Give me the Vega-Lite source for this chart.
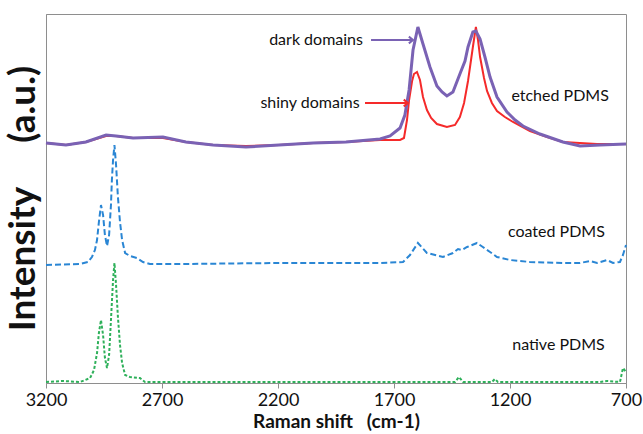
{
  "$schema": "https://vega.github.io/schema/vega-lite/v6.json",
  "width": 580,
  "height": 369,
  "autosize": {"type": "none"},
  "padding": {"left": 46, "top": 14, "right": 17, "bottom": 51},
  "background": "white",
  "config": {
    "view": {"stroke": "#8e8e8e", "strokeWidth": 1},
    "font": "Lato"
  },
  "datasets": {
    "dark": [
      {"shift": 3200, "value": 240}, {"shift": 3114, "value": 238}, {"shift": 3028, "value": 241},
      {"shift": 2941, "value": 248}, {"shift": 2898, "value": 247}, {"shift": 2825, "value": 245},
      {"shift": 2696, "value": 246}, {"shift": 2597, "value": 241}, {"shift": 2480, "value": 238},
      {"shift": 2338, "value": 236}, {"shift": 2196, "value": 238}, {"shift": 2049, "value": 240},
      {"shift": 1907, "value": 241}, {"shift": 1760, "value": 244}, {"shift": 1717, "value": 247},
      {"shift": 1674, "value": 255}, {"shift": 1653, "value": 268}, {"shift": 1635, "value": 293},
      {"shift": 1618, "value": 333}, {"shift": 1597, "value": 356}, {"shift": 1575, "value": 339},
      {"shift": 1545, "value": 316}, {"shift": 1515, "value": 297}, {"shift": 1493, "value": 291},
      {"shift": 1472, "value": 287}, {"shift": 1446, "value": 291}, {"shift": 1416, "value": 309},
      {"shift": 1394, "value": 322}, {"shift": 1381, "value": 336}, {"shift": 1360, "value": 351},
      {"shift": 1347, "value": 352}, {"shift": 1329, "value": 344}, {"shift": 1308, "value": 326},
      {"shift": 1286, "value": 306}, {"shift": 1256, "value": 286}, {"shift": 1213, "value": 271},
      {"shift": 1178, "value": 263}, {"shift": 1144, "value": 257}, {"shift": 1071, "value": 249},
      {"shift": 972, "value": 241}, {"shift": 898, "value": 237}, {"shift": 812, "value": 238},
      {"shift": 700, "value": 239}
    ],
    "shiny": [
      {"shift": 3200, "value": 240}, {"shift": 3114, "value": 238}, {"shift": 3028, "value": 241},
      {"shift": 2941, "value": 247}, {"shift": 2898, "value": 247}, {"shift": 2825, "value": 245},
      {"shift": 2696, "value": 245}, {"shift": 2597, "value": 241}, {"shift": 2480, "value": 238},
      {"shift": 2338, "value": 237}, {"shift": 2196, "value": 238}, {"shift": 2049, "value": 240},
      {"shift": 1907, "value": 241}, {"shift": 1760, "value": 243}, {"shift": 1674, "value": 243},
      {"shift": 1657, "value": 245}, {"shift": 1644, "value": 263}, {"shift": 1635, "value": 283},
      {"shift": 1622, "value": 302}, {"shift": 1614, "value": 309}, {"shift": 1601, "value": 311},
      {"shift": 1588, "value": 303}, {"shift": 1575, "value": 286}, {"shift": 1558, "value": 273},
      {"shift": 1540, "value": 265}, {"shift": 1515, "value": 259}, {"shift": 1472, "value": 256},
      {"shift": 1437, "value": 258}, {"shift": 1416, "value": 266}, {"shift": 1398, "value": 280},
      {"shift": 1381, "value": 302}, {"shift": 1368, "value": 323}, {"shift": 1360, "value": 336},
      {"shift": 1347, "value": 356}, {"shift": 1338, "value": 343}, {"shift": 1329, "value": 326},
      {"shift": 1312, "value": 305}, {"shift": 1299, "value": 292}, {"shift": 1278, "value": 280},
      {"shift": 1256, "value": 272}, {"shift": 1222, "value": 266}, {"shift": 1187, "value": 261},
      {"shift": 1114, "value": 252}, {"shift": 1040, "value": 246}, {"shift": 972, "value": 241},
      {"shift": 825, "value": 239}, {"shift": 700, "value": 239}
    ],
    "coated": [
      {"shift": 3200, "value": 118}, {"shift": 3053, "value": 119}, {"shift": 3019, "value": 121},
      {"shift": 3002, "value": 126}, {"shift": 2989, "value": 133}, {"shift": 2980, "value": 143},
      {"shift": 2972, "value": 161}, {"shift": 2963, "value": 178}, {"shift": 2954, "value": 168},
      {"shift": 2946, "value": 148}, {"shift": 2937, "value": 137}, {"shift": 2928, "value": 148},
      {"shift": 2920, "value": 178}, {"shift": 2916, "value": 203}, {"shift": 2911, "value": 223},
      {"shift": 2905, "value": 238}, {"shift": 2898, "value": 218}, {"shift": 2890, "value": 186},
      {"shift": 2881, "value": 161}, {"shift": 2872, "value": 143}, {"shift": 2859, "value": 130},
      {"shift": 2838, "value": 127}, {"shift": 2808, "value": 125}, {"shift": 2782, "value": 121},
      {"shift": 2752, "value": 119}, {"shift": 2622, "value": 119}, {"shift": 2191, "value": 120},
      {"shift": 1760, "value": 120}, {"shift": 1661, "value": 121}, {"shift": 1631, "value": 128},
      {"shift": 1597, "value": 140}, {"shift": 1558, "value": 130}, {"shift": 1489, "value": 126},
      {"shift": 1446, "value": 130}, {"shift": 1424, "value": 134}, {"shift": 1407, "value": 133},
      {"shift": 1385, "value": 136}, {"shift": 1342, "value": 140}, {"shift": 1317, "value": 136},
      {"shift": 1286, "value": 131}, {"shift": 1256, "value": 126}, {"shift": 1200, "value": 123},
      {"shift": 1114, "value": 121}, {"shift": 972, "value": 120}, {"shift": 898, "value": 120},
      {"shift": 855, "value": 122}, {"shift": 825, "value": 120}, {"shift": 782, "value": 123},
      {"shift": 756, "value": 120}, {"shift": 726, "value": 121}, {"shift": 713, "value": 128},
      {"shift": 700, "value": 138}
    ],
    "native": [
      {"shift": 3200, "value": 1}, {"shift": 3127, "value": 2}, {"shift": 3053, "value": 1},
      {"shift": 3010, "value": 5}, {"shift": 2993, "value": 13}, {"shift": 2980, "value": 30},
      {"shift": 2972, "value": 50}, {"shift": 2963, "value": 63}, {"shift": 2954, "value": 48},
      {"shift": 2946, "value": 25}, {"shift": 2937, "value": 15}, {"shift": 2928, "value": 28},
      {"shift": 2920, "value": 63}, {"shift": 2911, "value": 103}, {"shift": 2905, "value": 120},
      {"shift": 2898, "value": 98}, {"shift": 2890, "value": 66}, {"shift": 2881, "value": 38},
      {"shift": 2872, "value": 20}, {"shift": 2859, "value": 8}, {"shift": 2838, "value": 6},
      {"shift": 2795, "value": 5}, {"shift": 2773, "value": 1}, {"shift": 2536, "value": 1},
      {"shift": 1437, "value": 1}, {"shift": 1420, "value": 6}, {"shift": 1402, "value": 1},
      {"shift": 1278, "value": 1}, {"shift": 1265, "value": 4}, {"shift": 1252, "value": 1},
      {"shift": 812, "value": 1}, {"shift": 782, "value": 2}, {"shift": 726, "value": 1},
      {"shift": 713, "value": 15}, {"shift": 700, "value": 11}
    ],
    "arrows": [
      {"series": "dark", "x1": 1799, "x2": 1618, "y": 343},
      {"series": "shiny", "x1": 1825, "x2": 1640, "y": 280}
    ],
    "labels": [
      {"text": "dark domains", "shift": 2036, "value": 343},
      {"text": "shiny domains", "shift": 2062, "value": 280},
      {"text": "etched PDMS", "shift": 984, "value": 287},
      {"text": "coated PDMS", "shift": 1000, "value": 151},
      {"text": "native PDMS", "shift": 991, "value": 38}
    ]
  },
  "encoding": {
    "x": {
      "field": "shift", "type": "quantitative",
      "scale": {"domain": [700, 3200], "reverse": true, "nice": false, "zero": false},
      "axis": {
        "values": [3200, 2700, 2200, 1700, 1200, 700], "format": "d",
        "grid": false, "domainColor": "#8e8e8e", "tickColor": "#8e8e8e", "tickSize": 5,
        "labelFont": "Lato", "labelFontSize": 18, "labelColor": "#111", "labelPadding": 3,
        "labelFlush": false, "labelOverlap": false,
        "title": "Raman shift\u00a0\u00a0 (cm-1)", "titleFont": "Lato", "titleFontSize": 19,
        "titleFontWeight": "bold", "titleColor": "#111", "titlePadding": 3
      }
    },
    "y": {
      "field": "value", "type": "quantitative",
      "scale": {"domain": [0, 369], "nice": false},
      "axis": {
        "labels": false, "ticks": false, "grid": false, "domainColor": "#8e8e8e",
        "title": "Intensity\u00a0\u00a0\u00a0\u00a0\u00a0(a.u.)", "titleFont": "Lato", "titleFontSize": 37,
        "titleFontWeight": "bold", "titleColor": "#111", "titleAngle": -90,
        "titleX": -4, "titleY": 184, "titleAlign": "center", "titleBaseline": "bottom"
      }
    }
  },
  "layer": [
    {"data": {"name": "shiny"}, "mark": {"type": "line", "color": "#f52a2a", "strokeWidth": 2}},
    {"data": {"name": "dark"}, "mark": {"type": "line", "color": "#7a62b4", "strokeWidth": 3}},
    {"data": {"name": "coated"}, "mark": {"type": "line", "color": "#2a86d4", "strokeWidth": 2, "strokeDash": [6, 3]}},
    {"data": {"name": "native"}, "mark": {"type": "line", "color": "#2eb05a", "strokeWidth": 2, "strokeDash": [3, 2]}},
    {
      "data": {"name": "arrows"},
      "mark": {"type": "rule", "strokeWidth": 2},
      "encoding": {
        "x": {"field": "x1", "type": "quantitative"},
        "x2": {"field": "x2"},
        "y": {"field": "y", "type": "quantitative"},
        "color": {"field": "series", "type": "nominal", "scale": {"domain": ["dark", "shiny"], "range": ["#7a62b4", "#f52a2a"]}, "legend": null}
      }
    },
    {
      "data": {"name": "arrows"},
      "mark": {"type": "point", "shape": "M-1,-0.8L0,0L-1,0.8", "filled": false, "strokeWidth": 2, "size": 70, "opacity": 1},
      "encoding": {
        "x": {"field": "x2", "type": "quantitative"},
        "y": {"field": "y", "type": "quantitative"},
        "color": {"field": "series", "type": "nominal", "scale": {"domain": ["dark", "shiny"], "range": ["#7a62b4", "#f52a2a"]}, "legend": null}
      }
    },
    {
      "data": {"name": "labels"},
      "mark": {"type": "text", "font": "Lato", "fontSize": 16, "color": "#111", "align": "center", "baseline": "middle"},
      "encoding": {
        "text": {"field": "text"},
        "x": {"field": "shift", "type": "quantitative"},
        "y": {"field": "value", "type": "quantitative"}
      }
    }
  ]
}
